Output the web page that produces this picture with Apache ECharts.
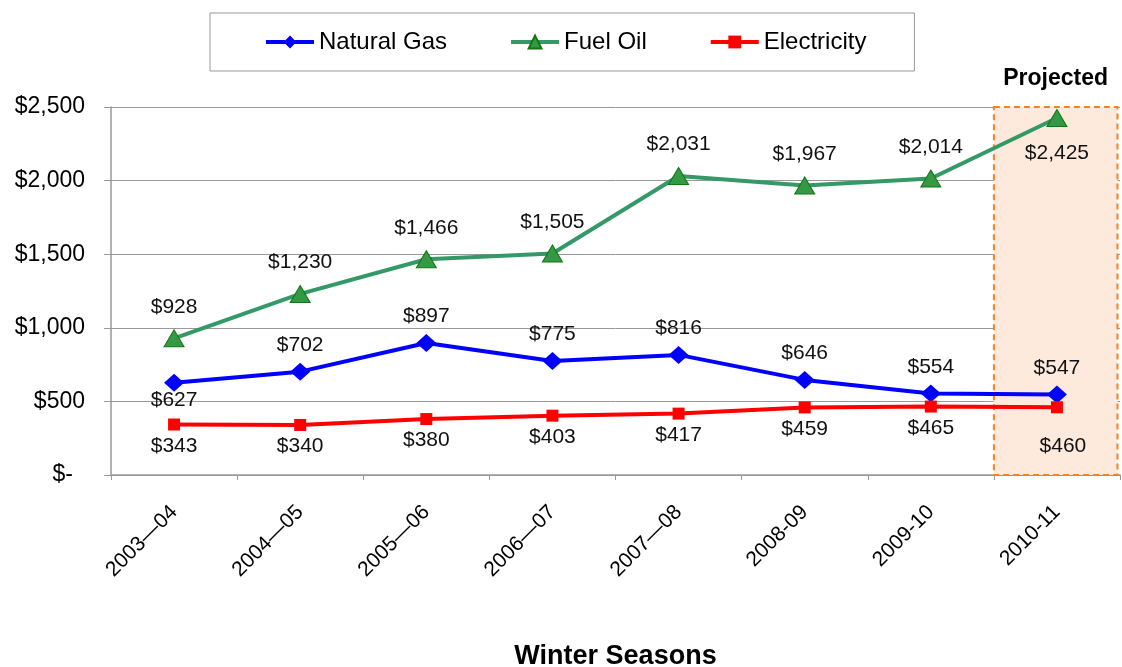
<!DOCTYPE html>
<html>
<head>
<meta charset="utf-8">
<script src="https://cdn.jsdelivr.net/npm/echarts@6/dist/echarts.min.js"></script>
<style>
  html, body { margin: 0; padding: 0; background: #fff; }
  #chart { width: 1122px; height: 667px; }
</style>
</head>
<body>
<div id="chart"></div>
<script>
// data
var seasons = ['2003\u201404', '2004\u201405', '2005\u201406', '2006\u201407', '2007\u201408', '2008-09', '2009-10', '2010-11'];
var naturalGas = [627, 702, 897, 775, 816, 646, 554, 547];
var fuelOil = [928, 1230, 1466, 1505, 2031, 1967, 2014, 2425];
var electricity = [343, 340, 380, 403, 417, 459, 465, 460];
var yTicks = [0, 500, 1000, 1500, 2000, 2500];
var projectedIndex = 7; // last season is projected

function money(v) {
  if (v === 0) return '$-';
  return '$' + v.toLocaleString('en-US');
}

var labelFont = { fontFamily: 'Liberation Sans', fontSize: 21, color: '#111' };

// natural gas: first label sits under the point
var gasData = naturalGas.map(function (v, i) {
  var d = { value: v };
  if (i === 0) d.label = { position: 'bottom', distance: -2 };
  return d;
});
// fuel oil: last label sits under the point
var oilData = fuelOil.map(function (v, i) {
  var d = { value: v };
  if (i === fuelOil.length - 1) d.label = { position: 'bottom', distance: 16 };
  return d;
});
// electricity: projected label pushed a bit lower
var elecData = electricity.map(function (v, i) {
  var d = { value: v };
  if (i === projectedIndex) d.label = { distance: 22, offset: [6, 0] };
  return d;
});

var myChart = echarts.init(document.getElementById('chart'));
var option = {
  animation: false,
  textStyle: { fontFamily: 'Liberation Sans' },
  legend: {
    top: 13,
    left: 210,
    padding: [17, 48, 17, 54],
    itemGap: 62,
    itemWidth: 48,
    itemHeight: 16,
    borderColor: '#999',
    borderWidth: 1,
    lineStyle: { width: 4 },
    textStyle: { fontFamily: 'Liberation Sans', fontSize: 24, color: '#000' },
    data: ['Natural Gas', 'Fuel Oil', 'Electricity']
  },
  grid: { left: 111, right: 2, top: 107, bottom: 192, outerBoundsMode: 'none', containLabel: false },
  xAxis: [{
    type: 'category',
    data: seasons,
    boundaryGap: true,
    axisLine: { lineStyle: { color: '#999', width: 1.5 } },
    axisTick: { show: true, length: 5, lineStyle: { color: '#999' } },
    axisLabel: {
      rotate: 45,
      margin: 34,
      fontSize: 21,
      color: '#000',
      fontFamily: 'Liberation Sans'
    },
    name: 'Winter Seasons',
    nameLocation: 'middle',
    nameGap: 168,
    nameTextStyle: { fontSize: 27, fontWeight: 'bold', color: '#000', fontFamily: 'Liberation Sans' }
  }, {
    // hidden helper axis so the projected band spans a whole category
    type: 'value',
    min: 0,
    max: seasons.length,
    show: false
  }],
  yAxis: {
    type: 'value',
    min: yTicks[0],
    max: yTicks[yTicks.length - 1],
    interval: 500,
    axisLine: { show: true, lineStyle: { color: '#999', width: 1.5 } },
    axisTick: { show: true, length: 7, lineStyle: { color: '#999' } },
    splitLine: { lineStyle: { color: '#999', width: 1 } },
    axisLabel: {
      fontSize: 23,
      color: '#000',
      margin: 26,
      fontFamily: 'Liberation Sans',
      formatter: function (v) {
        // accounting style: the dash sits left of the digit column
        return v === 0 ? '{dash|$-}' : money(v);
      },
      rich: {
        dash: { fontSize: 23, color: '#000', fontFamily: 'Liberation Sans', padding: [0, 12, 0, 0] }
      }
    }
  },
  series: [
    {
      name: 'projected',
      type: 'line',
      xAxisIndex: 1,
      data: [],
      silent: true,
      clip: false,
      markArea: {
        silent: true,
        itemStyle: {
          color: '#fdeadd',
          borderColor: '#f58220',
          borderWidth: 2,
          borderType: [6, 4]
        },
        label: {
          show: true,
          position: 'top',
          distance: 16,
          fontSize: 23,
          fontWeight: 'bold',
          color: '#000',
          fontFamily: 'Liberation Sans'
        },
        data: [[
          { name: 'Projected', xAxis: projectedIndex, yAxis: 2510 },
          { xAxis: projectedIndex + 0.98, yAxis: 0 }
        ]]
      },
      z: 1
    },
    {
      name: 'Natural Gas',
      type: 'line',
      data: gasData,
      symbol: 'diamond',
      symbolSize: [20, 18],
      lineStyle: { color: '#0000ff', width: 4 },
      itemStyle: { color: '#0000ff' },
      label: Object.assign({
        show: true, position: 'top', distance: 7,
        formatter: function (p) { return money(p.value); }
      }, labelFont),
      z: 3
    },
    {
      name: 'Fuel Oil',
      type: 'line',
      data: oilData,
      symbol: 'triangle',
      symbolSize: [20, 17],
      lineStyle: { color: '#339966', width: 4 },
      itemStyle: { color: '#339944', borderColor: '#117711', borderWidth: 1 },
      label: Object.assign({
        show: true, position: 'top', distance: 12,
        formatter: function (p) { return money(p.value); }
      }, labelFont),
      z: 3
    },
    {
      name: 'Electricity',
      type: 'line',
      data: elecData,
      symbol: 'rect',
      symbolSize: 12,
      lineStyle: { color: '#ff0000', width: 4 },
      itemStyle: { color: '#ff0000' },
      label: Object.assign({
        show: true, position: 'bottom', distance: 5,
        formatter: function (p) { return money(p.value); }
      }, labelFont),
      z: 3
    }
  ]
};
myChart.setOption(option);
</script>
</body>
</html>
